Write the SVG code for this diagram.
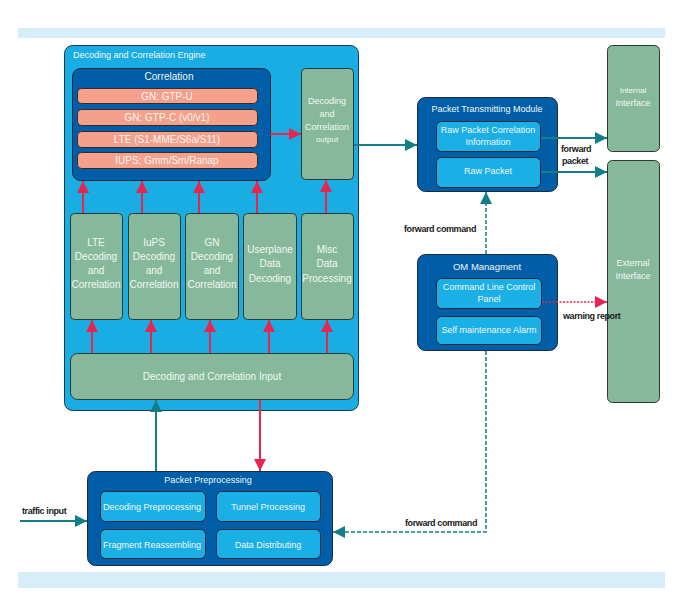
<svg xmlns="http://www.w3.org/2000/svg" width="695" height="608" viewBox="0 0 695 608">
<defs>
<style>
text{font-family:"Liberation Sans",Arial,sans-serif;font-size:10px;fill:#f2f7f4;text-anchor:middle}
.s9{font-size:9px}
.lbl{fill:#1a1a1a;font-weight:bold;text-anchor:start;font-size:9px;letter-spacing:-0.4px}
.band{fill:#d5eef9}
.engine{fill:#1aade4;stroke:#1f3a4a;stroke-width:1}
.dark{fill:#005ea8;stroke:#1c2a3a;stroke-width:1}
.sub{fill:#1aafe5;stroke:#1c2a3a;stroke-width:1}
.green{fill:#86b99b;stroke:#2a3a30;stroke-width:1}
.pink{fill:#f4a08a;stroke:#3a2a25;stroke-width:1}
.red{stroke:#e8254f;stroke-width:2;fill:none}
.teal{stroke:#127f86;stroke-width:2;fill:none}
.dash{stroke:#127f86;stroke-width:1.5;fill:none;stroke-dasharray:4 2}
.dot{stroke:#e8254f;stroke-width:1.5;fill:none;stroke-dasharray:2 1.5}
</style>
<marker id="ar" viewBox="0 0 10 10" refX="10" refY="5" markerWidth="6" markerHeight="6" markerUnits="strokeWidth" orient="auto"><path d="M0,0L10,5L0,10z" fill="#e8254f"/></marker>
<marker id="ardot" viewBox="0 0 10 10" refX="10" refY="5" markerWidth="8" markerHeight="8" markerUnits="strokeWidth" orient="auto"><path d="M0,0L10,5L0,10z" fill="#e8254f"/></marker>
<marker id="at" viewBox="0 0 10 10" refX="10" refY="5" markerWidth="6" markerHeight="6" markerUnits="strokeWidth" orient="auto"><path d="M0,0L10,5L0,10z" fill="#127f86"/></marker>
<marker id="atd" viewBox="0 0 10 10" refX="10" refY="5" markerWidth="8" markerHeight="8" markerUnits="strokeWidth" orient="auto"><path d="M0,0L10,5L0,10z" fill="#127f86"/></marker>
</defs>
<rect width="695" height="608" fill="#ffffff"/>
<rect class="band" x="18" y="28" width="647" height="10"/>
<rect class="band" x="18" y="572" width="647" height="16"/>

<g id="engine">
<rect class="engine" x="64.5" y="45.5" width="294" height="365" rx="8"/>
<text class="s9" x="73" y="58" style="text-anchor:start">Decoding and Correlation Engine</text>
</g>
<g id="correlation">
<rect class="dark" x="72.5" y="68.5" width="198" height="112" rx="8"/>
<text x="169" y="80">Correlation</text>
<rect class="pink" x="77.5" y="88.5" width="180" height="15" rx="4"/>
<text x="167" y="99.5">GN: GTP-U</text>
<rect class="pink" x="77.5" y="109.5" width="180" height="16" rx="4"/>
<text x="167" y="121">GN: GTP-C (v0/v1)</text>
<rect class="pink" x="77.5" y="131.5" width="180" height="16" rx="4"/>
<text x="167" y="143">LTE (S1-MME/S6a/S11)</text>
<rect class="pink" x="77.5" y="152.5" width="180" height="16" rx="4"/>
<text x="167" y="164">IUPS: Gmm/Sm/Ranap</text>
</g>
<g id="output">
<rect class="green" x="301.5" y="68.5" width="52" height="111" rx="4"/>
<text class="s9" x="327" y="104">Decoding</text>
<text class="s9" x="327" y="117">and</text>
<text class="s9" x="327" y="130">Correlation</text>
<text x="327" y="142" style="font-size:8px">output</text>
</g>
<g id="lte">
<rect class="green" x="70.5" y="213.5" width="52" height="106" rx="4"/>
<text x="96" y="246">LTE</text>
<text x="96" y="260">Decoding</text>
<text x="96" y="274">and</text>
<text x="96" y="288">Correlation</text>
</g>
<g id="iups">
<rect class="green" x="128.5" y="213.5" width="52" height="106" rx="4"/>
<text x="154" y="246">IuPS</text>
<text x="154" y="260">Decoding</text>
<text x="154" y="274">and</text>
<text x="154" y="288">Correlation</text>
</g>
<g id="gn">
<rect class="green" x="185.5" y="213.5" width="53" height="106" rx="4"/>
<text x="212" y="246">GN</text>
<text x="212" y="260">Decoding</text>
<text x="212" y="274">and</text>
<text x="212" y="288">Correlation</text>
</g>
<g id="userplane">
<rect class="green" x="243.5" y="213.5" width="53" height="106" rx="4"/>
<text x="270" y="253">Userplane</text>
<text x="270" y="267">Data</text>
<text x="270" y="282">Decoding</text>
</g>
<g id="misc">
<rect class="green" x="301.5" y="213.5" width="52" height="106" rx="4"/>
<text x="327" y="253">Misc</text>
<text x="327" y="267">Data</text>
<text x="327" y="282">Processing</text>
</g>
<g id="input">
<rect class="green" x="70.5" y="353.5" width="283" height="46" rx="7"/>
<text x="212" y="380">Decoding and Correlation Input</text>
</g>

<g id="preproc">
<rect class="dark" x="87.5" y="471.5" width="245" height="94" rx="8"/>
<text class="s9" x="208" y="483">Packet Preprocessing</text>
<rect class="sub" x="100.5" y="491.5" width="105" height="30" rx="5"/>
<text class="s9" x="152" y="509.5">Decoding Preprocessing</text>
<rect class="sub" x="216.5" y="491.5" width="104" height="30" rx="5"/>
<text class="s9" x="268" y="509.5">Tunnel Processing</text>
<rect class="sub" x="100.5" y="529.5" width="105" height="29" rx="5"/>
<text class="s9" x="152" y="547.5">Fragment Reassembling</text>
<rect class="sub" x="216.5" y="529.5" width="104" height="29" rx="5"/>
<text class="s9" x="268" y="547.5">Data Distributing</text>
</g>

<g id="ptm">
<rect class="dark" x="417.5" y="97.5" width="140" height="94" rx="8"/>
<text class="s9" x="487" y="112">Packet Transmitting Module</text>
<rect class="sub" x="436.5" y="121.5" width="104" height="30" rx="5"/>
<text class="s9" x="488" y="133">Raw Packet Correlation</text>
<text class="s9" x="488" y="144.5">Information</text>
<rect class="sub" x="436.5" y="157.5" width="104" height="30" rx="5"/>
<text class="s9" x="488" y="173.5">Raw Packet</text>
</g>
<g id="om">
<rect class="dark" x="417.5" y="254.5" width="140" height="96" rx="8"/>
<text x="487" y="270" style="font-size:9.5px">OM Managment</text>
<rect class="sub" x="436.5" y="278.5" width="105" height="30" rx="5"/>
<text class="s9" x="489" y="290">Command Line Control</text>
<text class="s9" x="489" y="302">Panel</text>
<rect class="sub" x="436.5" y="316.5" width="105" height="28" rx="5"/>
<text class="s9" x="489" y="333">Self maintenance Alarm</text>
</g>
<g id="internal">
<rect class="green" x="607.5" y="45.5" width="52" height="106" rx="5"/>
<text x="633" y="93" style="font-size:8px">Internal</text>
<text class="s9" x="633" y="106">Interface</text>
</g>
<g id="external">
<rect class="green" x="607.5" y="160.5" width="52" height="242" rx="5"/>
<text class="s9" x="633" y="266">External</text>
<text class="s9" x="633" y="279">Interface</text>
</g>

<g id="connectors">
<line class="red" x1="270" y1="134" x2="301" y2="134" marker-end="url(#ar)"/>
<line class="red" x1="83" y1="213" x2="83" y2="181" marker-end="url(#ar)"/>
<line class="red" x1="142" y1="213" x2="142" y2="181" marker-end="url(#ar)"/>
<line class="red" x1="199" y1="213" x2="199" y2="181" marker-end="url(#ar)"/>
<line class="red" x1="257" y1="213" x2="257" y2="181" marker-end="url(#ar)"/>
<line class="red" x1="326" y1="213" x2="326" y2="180" marker-end="url(#ar)"/>
<line class="red" x1="92" y1="353" x2="92" y2="320" marker-end="url(#ar)"/>
<line class="red" x1="151" y1="353" x2="151" y2="320" marker-end="url(#ar)"/>
<line class="red" x1="210" y1="353" x2="210" y2="320" marker-end="url(#ar)"/>
<line class="red" x1="269" y1="353" x2="269" y2="320" marker-end="url(#ar)"/>
<line class="red" x1="327" y1="353" x2="327" y2="320" marker-end="url(#ar)"/>
<line class="red" x1="260" y1="400" x2="260" y2="471" marker-end="url(#ar)"/>
<line class="teal" x1="156" y1="471" x2="156" y2="400" marker-end="url(#at)"/>
<line class="teal" x1="20" y1="521" x2="87" y2="521" marker-end="url(#at)"/>
<line class="teal" x1="354" y1="145" x2="417" y2="145" marker-end="url(#at)"/>
<line class="teal" x1="541" y1="138" x2="607" y2="138" marker-end="url(#at)"/>
<line class="teal" x1="541" y1="172" x2="607" y2="172" marker-end="url(#at)"/>
<line class="dash" x1="486" y1="254" x2="486" y2="192" marker-end="url(#atd)"/>
<polyline class="dash" points="486,351 486,532 333,532" marker-end="url(#atd)"/>
<line class="dot" x1="542" y1="302" x2="607" y2="302" marker-end="url(#ardot)"/>
<text class="lbl" x="22" y="514">traffic input</text>
<text class="lbl" x="404" y="232">forward command</text>
<text class="lbl" x="405" y="526">forward command</text>
<text class="lbl" x="561" y="152">forward</text>
<text class="lbl" x="562" y="164">packet</text>
<text class="lbl" x="563" y="319">warning report</text>
</g>
</svg>
